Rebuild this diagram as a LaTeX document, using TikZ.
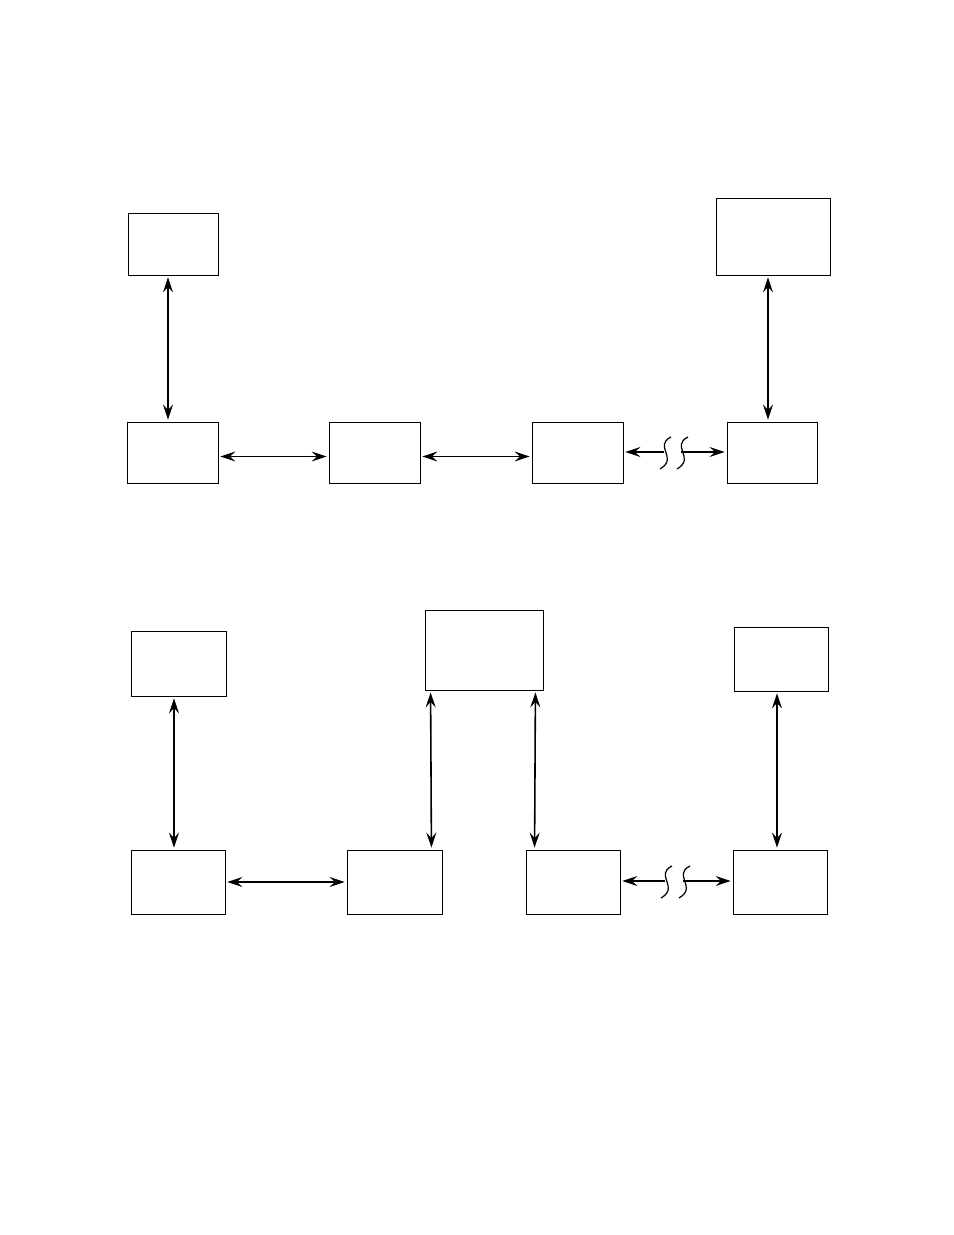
\documentclass[tikz,border=0pt]{standalone}
\usetikzlibrary{arrows.meta,positioning,calc}

\tikzset{
  blk/.style={draw,line width=0.5pt,inner sep=0pt},
  tip/.tip={Stealth[length=3mm,width=2mm,inset=1.1mm]},
  link/.style={line width=0.6pt,tip-tip,shorten <=0.4mm,shorten >=0.4mm},
  boldlink/.style={link,line width=0.9pt},
  half/.style={line width=0.6pt,-tip,shorten >=0.4mm},
  brk/.style={line width=0.7pt}
}

\begin{document}
\begin{tikzpicture}[x=0.02cm,y=-0.02cm]
  \useasboundingbox (0,0) rectangle (954,1235);

  % upper chain
  \node[blk,minimum width=1.8cm,minimum height=1.24cm] (A1) at (173,244) {};
  \node[blk,minimum width=2.28cm,minimum height=1.54cm] (A2) at (773,236.5) {};
  \node[blk,minimum width=1.82cm,minimum height=1.22cm] (B1) at (172.5,452.5) {};
  \node[blk,minimum width=1.82cm,minimum height=1.22cm] (B2) at (374.5,452.5) {};
  \node[blk,minimum width=1.82cm,minimum height=1.22cm] (B3) at (577.5,452.5) {};
  \node[blk,minimum width=1.8cm,minimum height=1.22cm] (B4) at (772,452.5) {};

  \draw[link] ($(A1.south)+(-5,0)$) -- ($(B1.north)+(-4.5,0)$);
  \draw[link] ($(B1.east)+(0,4)$) -- ($(B2.west)+(0,4)$);
  \draw[link] ($(B2.east)+(0,4)$) -- ($(B3.west)+(0,4)$);
  \draw[boldlink] ($(A2.south)+(-5,0)$) -- ($(B4.north)+(-4,0)$);
  \coordinate (u1) at (664,452);
  \coordinate (u2) at (681,452);
  \draw[half,line width=0.9pt] (u1) -- ($(B3.east)+(0,-0.5)$);
  \draw[half,line width=0.9pt] (u2) -- ($(B4.west)+(0,-0.5)$);
  \draw[brk] (671,437) .. controls (653,446) and (679,458) .. (660,469);
  \draw[brk] (688,437) .. controls (670,446) and (696,458) .. (677,469);

  % lower chain
  \node[blk,minimum width=1.9cm,minimum height=1.3cm] (C1) at (178.5,663.5) {};
  \node[blk,minimum width=2.36cm,minimum height=1.6cm] (C2) at (484,650) {};
  \node[blk,minimum width=1.88cm,minimum height=1.28cm] (C3) at (781,659) {};
  \node[blk,minimum width=1.88cm,minimum height=1.28cm] (D1) at (178,882) {};
  \node[blk,minimum width=1.9cm,minimum height=1.28cm] (D2) at (394.5,882) {};
  \node[blk,minimum width=1.88cm,minimum height=1.28cm] (D3) at (573,882) {};
  \node[blk,minimum width=1.88cm,minimum height=1.28cm] (D4) at (780,882) {};

  \draw[link] ($(C1.south)+(-4.5,0)$) -- ($(D1.north)+(-4,0)$);
  \draw[link] (D1.east) -- (D2.west);
  \draw[boldlink] ($(C2.south west)+(6,0)$) -- ($(D2.north east)+(-11,0)$);
  \draw[boldlink] ($(C2.south east)+(-8,0)$) -- ($(D3.north west)+(9,0)$);
  \draw[boldlink] ($(C3.south)+(-4,0)$) -- ($(D4.north)+(-3,0)$);
  \coordinate (l1) at (665,881);
  \coordinate (l2) at (683,881);
  \draw[half] (l1) -- ($(D3.east)+(0,-1)$);
  \draw[half] (l2) -- ($(D4.west)+(0,-1)$);
  \draw[brk] (672,866) .. controls (654,875) and (680,887) .. (661,898);
  \draw[brk] (690,866) .. controls (672,875) and (698,887) .. (679,898);
\end{tikzpicture}
\end{document}
